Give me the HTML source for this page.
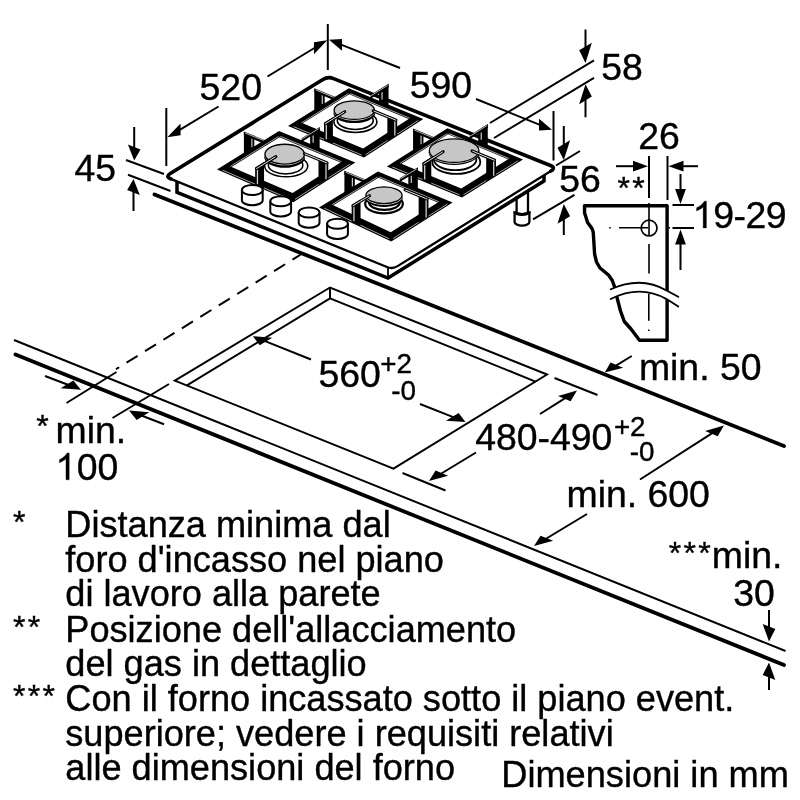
<!DOCTYPE html>
<html><head><meta charset="utf-8"><title>Hob dimensions</title>
<style>
html,body{margin:0;padding:0;background:#fff;}
body{width:800px;height:800px;overflow:hidden;}
svg{display:block;will-change:transform;}
text{font-family:"Liberation Sans",sans-serif;fill:#000;stroke:#000;stroke-width:0.38px;}
</style></head><body>
<svg width="800" height="800" viewBox="0 0 800 800">
<rect width="800" height="800" fill="#fff"/>
<line x1="154.5" y1="194.5" x2="784" y2="446" stroke="#000" stroke-width="3.8" stroke-linecap="round" />
<line x1="14" y1="340" x2="785.5" y2="651" stroke="#000" stroke-width="2.0" stroke-linecap="butt" />
<line x1="15.5" y1="354.5" x2="784" y2="665" stroke="#000" stroke-width="3.8" stroke-linecap="round" />
<polygon points="174.8,380.6 330,287.5 547,374.5 393.5,468.6" fill="none" stroke="#000" stroke-width="2.0" stroke-linejoin="miter"/>
<polyline points="186.9,385.4 330,298.3 535.5,381.6" fill="none" stroke="#000" stroke-width="2.0" stroke-linecap="butt" stroke-linejoin="miter"/>
<line x1="330" y1="287.5" x2="330" y2="298.3" stroke="#000" stroke-width="2.0" stroke-linecap="butt" />
<line x1="300.5" y1="254.7" x2="116" y2="369.2" stroke="#000" stroke-width="2" stroke-dasharray="13 8.7" stroke-dashoffset="3.6"/>
<line x1="116.5" y1="372" x2="66.5" y2="403" stroke="#000" stroke-width="2.0" stroke-linecap="butt" />
<line x1="169" y1="384" x2="112.5" y2="418" stroke="#000" stroke-width="2.0" stroke-linecap="butt" />
<line x1="45" y1="376" x2="67.93" y2="384.79" stroke="#000" stroke-width="2.0" stroke-linecap="butt" />
<polygon points="81,389.8 60.69,388.28 73.29,380.58" fill="#000" stroke="none" stroke-width="0" stroke-linejoin="miter"/>
<line x1="164" y1="424.3" x2="142.04" y2="415.7" stroke="#000" stroke-width="2.0" stroke-linecap="butt" />
<polygon points="129,410.6 136.67,419.92 149.27,412.22" fill="#000" stroke="none" stroke-width="0" stroke-linejoin="miter"/>
<polygon points="165.2,176.6 328,76.4 556,167.8 544,180 388,278 177,193" fill="#fff" stroke="none" stroke-width="0" stroke-linejoin="miter"/>
<polyline points="177,181 177,192.3 388,278 544,181 544,175" fill="none" stroke="#000" stroke-width="3.5" stroke-linecap="butt" stroke-linejoin="miter"/>
<line x1="388" y1="266.5" x2="388" y2="277.5" stroke="#000" stroke-width="1.8" stroke-linecap="butt" />
<path d="M170.76 178.87 Q165.2 176.6 170.31 173.46 L322.89 79.54 Q328 76.4 333.57 78.63 L550.43 165.57 Q556 167.8 550.9 170.96 L397.6 266.14 Q392.5 269.3 386.94 267.03 Z" fill="#fff" stroke="none"/>
<path d="M170.76 178.87 Q165.2 176.6 170.31 173.46 L322.89 79.54 Q328 76.4 333.57 78.63 L550.43 165.57 Q556 167.8 550.9 170.96" fill="none" stroke="#000" stroke-width="3.7" stroke-linecap="round"/>
<path d="M550.9 170.96 L397.6 266.14 Q392.5 269.3 386.94 267.03 L170.76 178.87" fill="none" stroke="#000" stroke-width="2.3" stroke-linecap="round"/>
<path d="M516.6 196 L516.6 212 M528 190 L528 212" stroke="#000" stroke-width="2.3" fill="none"/>
<path d="M514.6 212 L514.6 222 A7.4 3.6 0 0 0 529.4 222 L529.4 212" fill="#fff" stroke="#000" stroke-width="2.3"/>
<path d="M514.6 211.3 A7.4 3.2 0 0 0 529.4 211.3" fill="none" stroke="#000" stroke-width="3.2"/>
<polygon points="314.3,88.9 324.7,92.9 324.7,108.1 314.3,112.1" fill="#000" stroke="none" stroke-width="0" stroke-linejoin="miter"/>
<line x1="322.3" y1="95.1" x2="322.3" y2="104.1" stroke="#c4c4c4" stroke-width="1.2" stroke-linecap="butt" />
<polygon points="314.3,88.3 337.8,98.02 337.8,101.82 314.3,92.1" fill="#000" stroke="none" stroke-width="0" stroke-linejoin="miter"/>
<line x1="315.47" y1="89.79" x2="337.09" y2="98.72" stroke="#f4f4f4" stroke-width="0.75" stroke-linecap="butt" />
<polygon points="388.55,84.3 379.05,90.3 379.05,104.6 388.55,107.6" fill="#000" stroke="none" stroke-width="0" stroke-linejoin="miter"/>
<line x1="382.05" y1="92.3" x2="382.05" y2="99.6" stroke="#bdbdbd" stroke-width="1.3" stroke-linecap="butt" />
<polygon points="388.55,83.8 370.55,94.99 370.55,98.79 388.55,87.6" fill="#000" stroke="none" stroke-width="0" stroke-linejoin="miter"/>
<line x1="387.65" y1="85.36" x2="371.09" y2="95.66" stroke="#f4f4f4" stroke-width="0.75" stroke-linecap="butt" />
<path d="M288,126 348.8,88.2 423.3,119 364,157.6Z M302.7,123.34 349.31,94.36 408.63,118.89 363.16,148.48Z" fill="#000" fill-rule="evenodd"/>
<line x1="301.39" y1="122.92" x2="348.48" y2="93.64" stroke="#fff" stroke-width="0.65" stroke-linecap="butt" />
<line x1="350.14" y1="93.57" x2="409.64" y2="118.17" stroke="#fff" stroke-width="0.65" stroke-linecap="butt" />
<line x1="293.55" y1="126.63" x2="361.67" y2="154.95" stroke="#fff" stroke-width="0.65" stroke-linecap="butt" />
<line x1="365.52" y1="154.76" x2="418.3" y2="120.4" stroke="#fff" stroke-width="0.65" stroke-linecap="butt" />
<ellipse cx="355.4" cy="121.7" rx="21.5" ry="10.75" fill="#fff" stroke="#000" stroke-width="1.6"/>
<ellipse cx="355.25" cy="120.47" rx="17.95" ry="8.97" fill="#fff" stroke="#000" stroke-width="1.6"/>
<ellipse cx="354.3" cy="113.2" rx="20.8" ry="9.9" fill="#000" stroke="none" stroke-width="0"/>
<ellipse cx="354.3" cy="110.85" rx="20.7" ry="9.9" fill="#eee" stroke="none" stroke-width="0"/>
<ellipse cx="354.3" cy="110.2" rx="20.15" ry="9.25" fill="#c6c6c6" stroke="#000" stroke-width="1.3"/>
<polygon points="324,122.7 332.9,117.17 332.9,143.8 324,140.2" fill="#000" stroke="none" stroke-width="0" stroke-linejoin="miter"/>
<line x1="326.3" y1="123.7" x2="326.3" y2="139.3" stroke="#cfcfcf" stroke-width="1.3" stroke-linecap="butt" />
<line x1="325.4" y1="123.7" x2="344.7" y2="111.7" stroke="#000" stroke-width="3.1" stroke-linecap="round" />
<line x1="325.4" y1="123.7" x2="344.12" y2="112.06" stroke="#e6e6e6" stroke-width="1.0" stroke-linecap="round" />
<polygon points="387.35,115.29 397.15,119.3 397.15,134.9 387.35,141" fill="#000" stroke="none" stroke-width="0" stroke-linejoin="miter"/>
<line x1="394.85" y1="120.1" x2="394.85" y2="135.5" stroke="#cfcfcf" stroke-width="1.3" stroke-linecap="butt" />
<line x1="395.75" y1="120.1" x2="373.25" y2="110.8" stroke="#000" stroke-width="3.1" stroke-linecap="round" />
<line x1="395.75" y1="120.1" x2="373.93" y2="111.08" stroke="#e6e6e6" stroke-width="1.0" stroke-linecap="round" />
<polygon points="413.05,129.1 423.45,133.1 423.45,148.3 413.05,152.3" fill="#000" stroke="none" stroke-width="0" stroke-linejoin="miter"/>
<line x1="421.05" y1="135.3" x2="421.05" y2="144.3" stroke="#c4c4c4" stroke-width="1.2" stroke-linecap="butt" />
<polygon points="413.05,128.5 436.55,138.24 436.55,142.04 413.05,132.3" fill="#000" stroke="none" stroke-width="0" stroke-linejoin="miter"/>
<line x1="414.22" y1="129.99" x2="435.84" y2="138.95" stroke="#f4f4f4" stroke-width="0.75" stroke-linecap="butt" />
<polygon points="487.75,124.55 478.25,130.55 478.25,144.85 487.75,147.85" fill="#000" stroke="none" stroke-width="0" stroke-linejoin="miter"/>
<line x1="481.25" y1="132.55" x2="481.25" y2="139.85" stroke="#bdbdbd" stroke-width="1.3" stroke-linecap="butt" />
<polygon points="487.75,124.05 469.75,135.38 469.75,139.18 487.75,127.85" fill="#000" stroke="none" stroke-width="0" stroke-linejoin="miter"/>
<line x1="486.85" y1="125.62" x2="470.29" y2="136.04" stroke="#f4f4f4" stroke-width="0.75" stroke-linecap="butt" />
<path d="M386.8,166.4 447.5,128.2 523,159.5 462,197.5Z M401.44,163.69 448.02,134.37 508.06,159.26 461.25,188.42Z" fill="#000" fill-rule="evenodd"/>
<line x1="400.13" y1="163.27" x2="447.19" y2="133.65" stroke="#fff" stroke-width="0.65" stroke-linecap="butt" />
<line x1="448.86" y1="133.58" x2="509.1" y2="158.56" stroke="#fff" stroke-width="0.65" stroke-linecap="butt" />
<line x1="392.32" y1="167" x2="459.71" y2="194.87" stroke="#fff" stroke-width="0.65" stroke-linecap="butt" />
<line x1="463.59" y1="194.68" x2="517.89" y2="160.86" stroke="#fff" stroke-width="0.65" stroke-linecap="butt" />
<ellipse cx="456.3" cy="161.9" rx="24" ry="12" fill="#fff" stroke="#000" stroke-width="1.8"/>
<ellipse cx="455.2" cy="159.6" rx="21.2" ry="10.6" fill="#fff" stroke="#000" stroke-width="1.8"/>
<ellipse cx="454.1" cy="152.6" rx="25.4" ry="12.4" fill="#000" stroke="none" stroke-width="0"/>
<ellipse cx="454.1" cy="151.35" rx="25.3" ry="12.4" fill="#eee" stroke="none" stroke-width="0"/>
<ellipse cx="454.1" cy="150.7" rx="24.75" ry="11.75" fill="#c6c6c6" stroke="#000" stroke-width="1.3"/>
<polygon points="422.4,162.85 431.3,157.25 431.3,183.95 422.4,180.35" fill="#000" stroke="none" stroke-width="0" stroke-linejoin="miter"/>
<line x1="424.7" y1="163.85" x2="424.7" y2="179.45" stroke="#cfcfcf" stroke-width="1.3" stroke-linecap="butt" />
<line x1="423.8" y1="163.85" x2="443.1" y2="151.7" stroke="#000" stroke-width="3.1" stroke-linecap="round" />
<line x1="423.8" y1="163.85" x2="442.52" y2="152.07" stroke="#e6e6e6" stroke-width="1.0" stroke-linecap="round" />
<polygon points="486.2,155.48 496,159.5 496,175.1 486.2,181.2" fill="#000" stroke="none" stroke-width="0" stroke-linejoin="miter"/>
<line x1="493.7" y1="160.3" x2="493.7" y2="175.7" stroke="#cfcfcf" stroke-width="1.3" stroke-linecap="butt" />
<line x1="494.6" y1="160.3" x2="472.1" y2="150.97" stroke="#000" stroke-width="3.1" stroke-linecap="round" />
<line x1="494.6" y1="160.3" x2="472.78" y2="151.25" stroke="#e6e6e6" stroke-width="1.0" stroke-linecap="round" />
<polygon points="243.9,132.05 254.3,136.05 254.3,151.25 243.9,155.25" fill="#000" stroke="none" stroke-width="0" stroke-linejoin="miter"/>
<line x1="251.9" y1="138.25" x2="251.9" y2="147.25" stroke="#c4c4c4" stroke-width="1.2" stroke-linecap="butt" />
<polygon points="243.9,131.45 267.4,141.18 267.4,144.98 243.9,135.25" fill="#000" stroke="none" stroke-width="0" stroke-linejoin="miter"/>
<line x1="245.08" y1="132.94" x2="266.69" y2="141.89" stroke="#f4f4f4" stroke-width="0.75" stroke-linecap="butt" />
<polygon points="319.65,127.5 310.15,133.5 310.15,147.8 319.65,150.8" fill="#000" stroke="none" stroke-width="0" stroke-linejoin="miter"/>
<line x1="313.15" y1="135.5" x2="313.15" y2="142.8" stroke="#bdbdbd" stroke-width="1.3" stroke-linecap="butt" />
<polygon points="319.65,127 301.65,138.18 301.65,141.98 319.65,130.8" fill="#000" stroke="none" stroke-width="0" stroke-linejoin="miter"/>
<line x1="318.75" y1="128.56" x2="302.19" y2="138.84" stroke="#f4f4f4" stroke-width="0.75" stroke-linecap="butt" />
<path d="M217,169.5 279,131 355.3,162.6 293.3,202.2Z M231.57,166.93 279.5,137.16 340.52,162.43 292.55,193.07Z" fill="#000" fill-rule="evenodd"/>
<line x1="230.3" y1="166.48" x2="278.66" y2="136.45" stroke="#fff" stroke-width="0.65" stroke-linecap="butt" />
<line x1="280.36" y1="136.38" x2="341.51" y2="161.71" stroke="#fff" stroke-width="0.65" stroke-linecap="butt" />
<line x1="222.53" y1="170.18" x2="290.97" y2="199.52" stroke="#fff" stroke-width="0.65" stroke-linecap="butt" />
<line x1="294.92" y1="199.33" x2="350.2" y2="164.02" stroke="#fff" stroke-width="0.65" stroke-linecap="butt" />
<ellipse cx="286.2" cy="165.97" rx="21.55" ry="10.78" fill="#fff" stroke="#000" stroke-width="1.5"/>
<ellipse cx="285.6" cy="165.32" rx="17.25" ry="8.62" fill="#fff" stroke="#000" stroke-width="1.5"/>
<ellipse cx="284.7" cy="157.25" rx="20.4" ry="10.55" fill="#000" stroke="none" stroke-width="0"/>
<ellipse cx="284.7" cy="154.8" rx="20.3" ry="10.55" fill="#eee" stroke="none" stroke-width="0"/>
<ellipse cx="284.7" cy="154.15" rx="19.75" ry="9.9" fill="#c6c6c6" stroke="#000" stroke-width="1.3"/>
<polygon points="255.15,167.58 264.05,162.05 264.05,188.68 255.15,185.08" fill="#000" stroke="none" stroke-width="0" stroke-linejoin="miter"/>
<line x1="257.45" y1="168.58" x2="257.45" y2="184.18" stroke="#cfcfcf" stroke-width="1.3" stroke-linecap="butt" />
<line x1="256.55" y1="168.58" x2="275.85" y2="156.59" stroke="#000" stroke-width="3.1" stroke-linecap="round" />
<line x1="256.55" y1="168.58" x2="275.27" y2="156.95" stroke="#e6e6e6" stroke-width="1.0" stroke-linecap="round" />
<polygon points="318.5,158.07 328.3,162.09 328.3,178.69 318.5,184.79" fill="#000" stroke="none" stroke-width="0" stroke-linejoin="miter"/>
<line x1="326" y1="162.89" x2="326" y2="179.29" stroke="#cfcfcf" stroke-width="1.3" stroke-linecap="butt" />
<line x1="326.9" y1="162.89" x2="304.4" y2="153.57" stroke="#000" stroke-width="3.1" stroke-linecap="round" />
<line x1="326.9" y1="162.89" x2="305.08" y2="153.85" stroke="#e6e6e6" stroke-width="1.0" stroke-linecap="round" />
<polygon points="344.4,171.3 354.8,175.3 354.8,190.5 344.4,194.5" fill="#000" stroke="none" stroke-width="0" stroke-linejoin="miter"/>
<line x1="352.4" y1="177.5" x2="352.4" y2="186.5" stroke="#c4c4c4" stroke-width="1.2" stroke-linecap="butt" />
<polygon points="344.4,170.7 367.9,180.47 367.9,184.27 344.4,174.5" fill="#000" stroke="none" stroke-width="0" stroke-linejoin="miter"/>
<line x1="345.57" y1="172.19" x2="367.19" y2="181.17" stroke="#f4f4f4" stroke-width="0.75" stroke-linecap="butt" />
<polygon points="417.8,167.8 408.3,173.8 408.3,188.1 417.8,191.1" fill="#000" stroke="none" stroke-width="0" stroke-linejoin="miter"/>
<line x1="411.3" y1="175.8" x2="411.3" y2="183.1" stroke="#bdbdbd" stroke-width="1.3" stroke-linecap="butt" />
<polygon points="417.8,167.3 399.8,178.22 399.8,182.02 417.8,171.1" fill="#000" stroke="none" stroke-width="0" stroke-linejoin="miter"/>
<line x1="416.9" y1="168.85" x2="400.34" y2="178.89" stroke="#f4f4f4" stroke-width="0.75" stroke-linecap="butt" />
<path d="M319,207.4 378,171.6 452.6,202.6 391.3,241.5Z M333.27,205.17 378.47,177.75 437.79,202.4 390.72,232.27Z" fill="#000" fill-rule="evenodd"/>
<line x1="332" y1="204.72" x2="377.67" y2="177.01" stroke="#fff" stroke-width="0.65" stroke-linecap="butt" />
<line x1="379.3" y1="176.96" x2="438.83" y2="201.7" stroke="#fff" stroke-width="0.65" stroke-linecap="butt" />
<line x1="324.34" y1="208.2" x2="389.12" y2="238.76" stroke="#fff" stroke-width="0.65" stroke-linecap="butt" />
<line x1="392.93" y1="238.63" x2="447.51" y2="203.99" stroke="#fff" stroke-width="0.65" stroke-linecap="butt" />
<ellipse cx="384" cy="203.9" rx="18.8" ry="9.4" fill="#fff" stroke="#000" stroke-width="2.2"/>
<ellipse cx="384.4" cy="202.2" rx="15.4" ry="7.7" fill="#fff" stroke="#000" stroke-width="2.2"/>
<ellipse cx="384" cy="197.95" rx="18.75" ry="9" fill="#000" stroke="none" stroke-width="0"/>
<ellipse cx="384" cy="195.9" rx="18.65" ry="9" fill="#eee" stroke="none" stroke-width="0"/>
<ellipse cx="384" cy="195.25" rx="18.1" ry="8.35" fill="#c6c6c6" stroke="#000" stroke-width="1.3"/>
<polygon points="351.65,204.73 360.55,199.33 360.55,225.83 351.65,222.23" fill="#000" stroke="none" stroke-width="0" stroke-linejoin="miter"/>
<line x1="353.95" y1="205.73" x2="353.95" y2="221.33" stroke="#cfcfcf" stroke-width="1.3" stroke-linecap="butt" />
<line x1="353.05" y1="205.73" x2="369.55" y2="195.71" stroke="#000" stroke-width="3.1" stroke-linecap="round" />
<line x1="353.05" y1="205.73" x2="369.05" y2="196.02" stroke="#e6e6e6" stroke-width="1.0" stroke-linecap="round" />
<polygon points="418.65,194.2 428.45,198.23 428.45,216.83 418.65,222.93" fill="#000" stroke="none" stroke-width="0" stroke-linejoin="miter"/>
<line x1="426.15" y1="199.03" x2="426.15" y2="217.43" stroke="#cfcfcf" stroke-width="1.3" stroke-linecap="butt" />
<line x1="427.05" y1="199.03" x2="405.05" y2="189.89" stroke="#000" stroke-width="3.1" stroke-linecap="round" />
<line x1="427.05" y1="199.03" x2="405.71" y2="190.16" stroke="#e6e6e6" stroke-width="1.0" stroke-linecap="round" />
<path d="M241.9 190 L241.9 200.2 A10.4 5 0 0 0 262.7 200.2 L262.7 190" fill="#fff" stroke="#000" stroke-width="2"/>
<ellipse cx="252.3" cy="190" rx="10.4" ry="5" fill="#fff" stroke="#000" stroke-width="2"/>
<path d="M270.3 201.25 L270.3 211.45 A10.4 5 0 0 0 291.1 211.45 L291.1 201.25" fill="#fff" stroke="#000" stroke-width="2"/>
<ellipse cx="280.7" cy="201.25" rx="10.4" ry="5" fill="#fff" stroke="#000" stroke-width="2"/>
<path d="M298.7 212.5 L298.7 222.7 A10.4 5 0 0 0 319.5 222.7 L319.5 212.5" fill="#fff" stroke="#000" stroke-width="2"/>
<ellipse cx="309.1" cy="212.5" rx="10.4" ry="5" fill="#fff" stroke="#000" stroke-width="2"/>
<path d="M327.1 223.75 L327.1 233.95 A10.4 5 0 0 0 347.9 233.95 L347.9 223.75" fill="#fff" stroke="#000" stroke-width="2"/>
<ellipse cx="337.5" cy="223.75" rx="10.4" ry="5" fill="#fff" stroke="#000" stroke-width="2"/>
<line x1="166.3" y1="108" x2="166.3" y2="166" stroke="#000" stroke-width="2.0" stroke-linecap="butt" />
<line x1="327.8" y1="24" x2="327.8" y2="70" stroke="#000" stroke-width="2.0" stroke-linecap="butt" />
<line x1="553.5" y1="111" x2="553.5" y2="160.5" stroke="#000" stroke-width="2.0" stroke-linecap="butt" />
<line x1="267.5" y1="76.5" x2="314.81" y2="47.73" stroke="#000" stroke-width="2.0" stroke-linecap="butt" />
<polygon points="327.2,40.2 313.96,42.35 313.96,54.15" fill="#000" stroke="none" stroke-width="0" stroke-linejoin="miter"/>
<line x1="218.5" y1="106.5" x2="179.73" y2="129.83" stroke="#000" stroke-width="2.0" stroke-linecap="butt" />
<polygon points="167.3,137.3 180.58,123.41 180.58,135.21" fill="#000" stroke="none" stroke-width="0" stroke-linejoin="miter"/>
<line x1="400" y1="68" x2="341.08" y2="44.6" stroke="#000" stroke-width="2.0" stroke-linecap="butt" />
<polygon points="329,39.8 342.01,39.07 342.01,50.87" fill="#000" stroke="none" stroke-width="0" stroke-linejoin="miter"/>
<line x1="476" y1="99" x2="539.95" y2="124.92" stroke="#000" stroke-width="2.0" stroke-linecap="butt" />
<polygon points="552,129.8 539.03,118.64 539.03,130.44" fill="#000" stroke="none" stroke-width="0" stroke-linejoin="miter"/>
<line x1="126" y1="160" x2="164" y2="174" stroke="#000" stroke-width="2.0" stroke-linecap="butt" />
<line x1="128" y1="174.8" x2="170.5" y2="191" stroke="#000" stroke-width="2.0" stroke-linecap="butt" />
<line x1="134.2" y1="127" x2="134.2" y2="148" stroke="#000" stroke-width="2.0" stroke-linecap="butt" />
<polygon points="134.2,160.5 127.9,144.4 140.5,149.6" fill="#000" stroke="none" stroke-width="0" stroke-linejoin="miter"/>
<line x1="133.5" y1="211" x2="133.5" y2="191.5" stroke="#000" stroke-width="2.0" stroke-linecap="butt" />
<polygon points="133.5,179 127.2,189.9 139.8,195.1" fill="#000" stroke="none" stroke-width="0" stroke-linejoin="miter"/>
<line x1="490" y1="123" x2="594" y2="60.3" stroke="#000" stroke-width="2.0" stroke-linecap="butt" />
<line x1="494" y1="138" x2="594" y2="77.8" stroke="#000" stroke-width="2.0" stroke-linecap="butt" />
<line x1="585.5" y1="29.5" x2="585.5" y2="47.5" stroke="#000" stroke-width="2.0" stroke-linecap="butt" />
<polygon points="585.5,63 579.2,50.35 591.8,42.65" fill="#000" stroke="none" stroke-width="0" stroke-linejoin="miter"/>
<line x1="585.5" y1="117.3" x2="585.5" y2="99.3" stroke="#000" stroke-width="2.0" stroke-linecap="butt" />
<polygon points="585.5,84.3 579.2,104.15 591.8,96.45" fill="#000" stroke="none" stroke-width="0" stroke-linejoin="miter"/>
<line x1="556" y1="165.5" x2="580" y2="151" stroke="#000" stroke-width="2.0" stroke-linecap="butt" />
<line x1="533" y1="219.3" x2="574.5" y2="194.8" stroke="#000" stroke-width="2.0" stroke-linecap="butt" />
<line x1="563.8" y1="126" x2="563.8" y2="145" stroke="#000" stroke-width="2.0" stroke-linecap="butt" />
<polygon points="563.8,160 557.5,147.85 570.1,140.15" fill="#000" stroke="none" stroke-width="0" stroke-linejoin="miter"/>
<line x1="563.8" y1="235" x2="563.8" y2="219" stroke="#000" stroke-width="2.0" stroke-linecap="butt" />
<polygon points="563.8,204 557.5,223.85 570.1,216.15" fill="#000" stroke="none" stroke-width="0" stroke-linejoin="miter"/>
<line x1="311" y1="359.5" x2="265.05" y2="341.11" stroke="#000" stroke-width="2.0" stroke-linecap="butt" />
<polygon points="252.8,336.2 259.68,345.33 272.28,337.63" fill="#000" stroke="none" stroke-width="0" stroke-linejoin="miter"/>
<line x1="420" y1="404" x2="453.23" y2="417.14" stroke="#000" stroke-width="2.0" stroke-linecap="butt" />
<polygon points="465.5,422 446,420.63 458.6,412.93" fill="#000" stroke="none" stroke-width="0" stroke-linejoin="miter"/>
<line x1="554.5" y1="378" x2="597.5" y2="395" stroke="#000" stroke-width="2.0" stroke-linecap="butt" />
<line x1="402.5" y1="473" x2="445.5" y2="490.5" stroke="#000" stroke-width="2.0" stroke-linecap="butt" />
<line x1="540" y1="414" x2="565.17" y2="398.08" stroke="#000" stroke-width="2.0" stroke-linecap="butt" />
<polygon points="577,390.6 558.02,396.02 570.62,401.22" fill="#000" stroke="none" stroke-width="0" stroke-linejoin="miter"/>
<line x1="476" y1="452.5" x2="440.97" y2="473.74" stroke="#000" stroke-width="2.0" stroke-linecap="butt" />
<polygon points="429,481 435.53,470.62 448.13,475.82" fill="#000" stroke="none" stroke-width="0" stroke-linejoin="miter"/>
<line x1="640" y1="479.5" x2="712.22" y2="433.07" stroke="#000" stroke-width="2.0" stroke-linecap="butt" />
<polygon points="724,425.5 705.08,431.01 717.68,436.21" fill="#000" stroke="none" stroke-width="0" stroke-linejoin="miter"/>
<line x1="587" y1="514" x2="545.98" y2="538.76" stroke="#000" stroke-width="2.0" stroke-linecap="butt" />
<polygon points="534,546 540.54,535.65 553.14,540.85" fill="#000" stroke="none" stroke-width="0" stroke-linejoin="miter"/>
<line x1="631.75" y1="356" x2="616.01" y2="365.62" stroke="#000" stroke-width="2.0" stroke-linecap="butt" />
<polygon points="604.75,372.5 610.57,362.5 623.17,367.7" fill="#000" stroke="none" stroke-width="0" stroke-linejoin="miter"/>
<line x1="769" y1="610" x2="769" y2="627.5" stroke="#000" stroke-width="2.0" stroke-linecap="butt" />
<polygon points="769,641.5 762.7,623.9 775.3,629.1" fill="#000" stroke="none" stroke-width="0" stroke-linejoin="miter"/>
<line x1="769" y1="690" x2="769" y2="676.5" stroke="#000" stroke-width="2.0" stroke-linecap="butt" />
<polygon points="769,662.5 762.7,674.9 775.3,680.1" fill="#000" stroke="none" stroke-width="0" stroke-linejoin="miter"/>
<path d="M584.5 205.8 L667.1 205.8 L667.1 340.2 L639.5 340.2 L631 329 L624.3 321.5 L620.5 311 L617.4 299 L615 288 L612.3 280.5 L608.5 275 L600 268 L596.5 262 L594.6 254 L593.8 241 L593.2 232 L592 228.5 L587.6 222.4 L584.6 213 Z" fill="#fff" stroke="#000" stroke-width="3.4" stroke-linejoin="round"/>
<path d="M606 291 L610.75 289.25 C625 283 640 279.5 667 290.75 L680 297.5 L680 307.5 L667 299.3 C640 288 625 292.2 610.75 299 L606 301 Z" fill="#fff" stroke="none"/>
<path d="M610.75 289.25 C628 281.5 647 279 667 290.75 L678.25 296.75" fill="none" stroke="#000" stroke-width="1.9" stroke-linecap="round"/>
<path d="M610.75 299 C628 290.3 647 288 667 299.3 L678.25 306.5" fill="none" stroke="#000" stroke-width="1.9" stroke-linecap="round"/>
<ellipse cx="649.1" cy="228.1" rx="7.9" ry="7.9" fill="none" stroke="#000" stroke-width="1.7"/>
<path d="M609.2 227.7 L610.8 227.7 M619 227.7 L648 227.7 M668.6 227.7 L670 227.7" stroke="#000" stroke-width="1.6"/>
<path d="M649 203 L649 235.5 M649 244 L649 273.5 M648.8 293.8 L648.8 320.8 M648.8 329.4 L648.8 331" stroke="#000" stroke-width="1.6"/>
<line x1="649" y1="156" x2="649" y2="198" stroke="#000" stroke-width="2.0" stroke-linecap="butt" />
<line x1="667.5" y1="156" x2="667.5" y2="200" stroke="#000" stroke-width="2.0" stroke-linecap="butt" />
<line x1="616" y1="166.2" x2="634" y2="166.2" stroke="#000" stroke-width="2.0" stroke-linecap="butt" />
<polygon points="648,166.2 633,160.8 633,171.6" fill="#000" stroke="none" stroke-width="0" stroke-linejoin="miter"/>
<line x1="698" y1="166.2" x2="682.5" y2="166.2" stroke="#000" stroke-width="2.0" stroke-linecap="butt" />
<polygon points="668.5,166.2 683.5,171.6 683.5,160.8" fill="#000" stroke="none" stroke-width="0" stroke-linejoin="miter"/>
<line x1="672.5" y1="205" x2="694" y2="205" stroke="#000" stroke-width="2.0" stroke-linecap="butt" />
<line x1="672.5" y1="228" x2="694" y2="228" stroke="#000" stroke-width="2.0" stroke-linecap="butt" />
<line x1="680.5" y1="174" x2="680.5" y2="190" stroke="#000" stroke-width="2.0" stroke-linecap="butt" />
<polygon points="680.5,204 685.9,189 675.1,189" fill="#000" stroke="none" stroke-width="0" stroke-linejoin="miter"/>
<line x1="680.5" y1="270" x2="680.5" y2="243.5" stroke="#000" stroke-width="2.0" stroke-linecap="butt" />
<polygon points="680.5,229.5 675.1,244.5 685.9,244.5" fill="#000" stroke="none" stroke-width="0" stroke-linejoin="miter"/>
<text x="199.5" y="100" font-size="37.5" text-anchor="start" >520</text>
<text x="409.7" y="98.1" font-size="37.4" text-anchor="start" >590</text>
<text x="601.2" y="79.7" font-size="37.4" text-anchor="start" >58</text>
<text x="74.5" y="180.5" font-size="37.4" text-anchor="start" >45</text>
<text x="559.2" y="192.2" font-size="37.4" text-anchor="start" >56</text>
<text x="638.3" y="148.9" font-size="37.4" text-anchor="start" >26</text>
<text x="617.4" y="199.2" font-size="32" letter-spacing="2.3">**</text>
<path transform="translate(692.5 228) scale(0.01826 -0.01826)" d="M763 0H583V1147Q518 1085 412.5 1023T223 930V1104Q373 1175 485.5 1275.5T645 1471H763Z" fill="#000" stroke="#000" stroke-width="16.4"/>
<text x="713.3" y="228" font-size="37.4" text-anchor="start" letter-spacing="-0.55">9-29</text>
<text x="638.9" y="380.2" font-size="37.4" text-anchor="start" >min. 50</text>
<text x="318.5" y="387.3" font-size="37.4" text-anchor="start" >560</text>
<text x="380.3" y="373.4" font-size="27.8" text-anchor="start" >+2</text>
<text x="391.2" y="400.2" font-size="27.8" text-anchor="start" >-0</text>
<text x="475.2" y="449.8" font-size="37.4" text-anchor="start" >480-490</text>
<text x="613.9" y="435.6" font-size="27.8" text-anchor="start" >+2</text>
<text x="629.8" y="460.5" font-size="27.8" text-anchor="start" >-0</text>
<text x="566.5" y="507.3" font-size="37.4" text-anchor="start" >min. 600</text>
<text x="668.7" y="564.4" font-size="32" letter-spacing="2.3">***</text>
<text x="711.8" y="567.5" font-size="37.4" text-anchor="start" >min.</text>
<text x="733.3" y="605.6" font-size="37.4" text-anchor="start" >30</text>
<text x="36.3" y="437" font-size="32" letter-spacing="2.3">*</text>
<text x="55.5" y="442.8" font-size="37.4" text-anchor="start" >min.</text>
<path transform="translate(55.3 479.8) scale(0.01826 -0.01826)" d="M763 0H583V1147Q518 1085 412.5 1023T223 930V1104Q373 1175 485.5 1275.5T645 1471H763Z" fill="#000" stroke="#000" stroke-width="16.4"/>
<text x="76.8" y="479.8" font-size="37.4" text-anchor="start" >00</text>
<text x="65.3" y="537.3" font-size="36.15" text-anchor="start" >Distanza minima dal</text>
<text x="65.3" y="571.8" font-size="36.15" text-anchor="start" >foro d'incasso nel piano</text>
<text x="65.3" y="606.3" font-size="36.15" text-anchor="start" >di lavoro alla parete</text>
<text x="65.3" y="641.8" font-size="36.15" text-anchor="start" >Posizione dell'allacciamento</text>
<text x="65.3" y="676.3" font-size="36.15" text-anchor="start" >del gas in dettaglio</text>
<text x="65.3" y="711.3" font-size="36.15" text-anchor="start" >Con il forno incassato sotto il piano event.</text>
<text x="65.3" y="745.8" font-size="36.15" text-anchor="start" >superiore; vedere i requisiti relativi</text>
<text x="65.3" y="780.3" font-size="36.15" text-anchor="start" >alle dimensioni del forno</text>
<text x="13.1" y="533.2" font-size="32" letter-spacing="2.3">*</text>
<text x="13.1" y="637.7" font-size="32" letter-spacing="2.3">**</text>
<text x="13.1" y="707.2" font-size="32" letter-spacing="2.3">***</text>
<text x="501.3" y="786.8" font-size="36.2" text-anchor="start" >Dimensioni in mm</text>
</svg>
</body></html>
